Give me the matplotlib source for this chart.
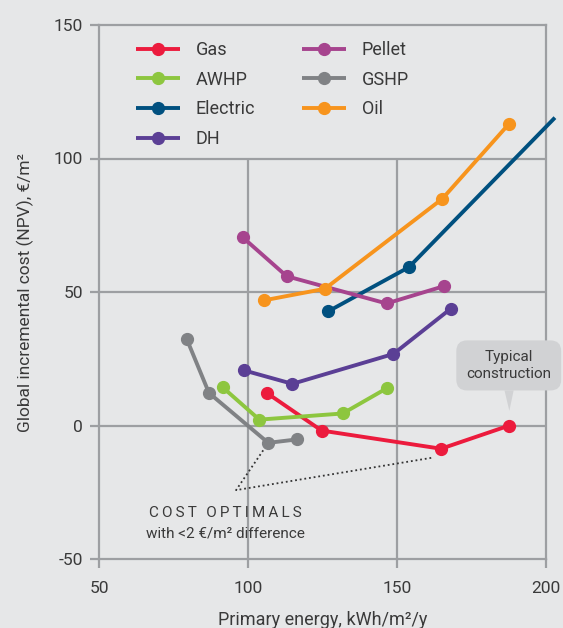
import matplotlib
matplotlib.use("Agg")
import matplotlib.pyplot as plt

plt.rcParams['font.family'] = ['Roboto', 'DejaVu Sans']
plt.rcParams['axes.unicode_minus'] = False

# series (primary energy, global incremental cost)
gas_x = [106.3, 124.7, 164.8, 187.7]
gas_y = [12.2, -1.9, -8.7, 0.0]
awhp_x = [91.5, 103.8, 131.8, 146.5]
awhp_y = [14.3, 2.2, 4.5, 13.9]
elec_x = [127.0, 154.0, 203.0]
elec_y = [42.8, 59.3, 115.3]
dh_x = [98.8, 114.9, 148.8, 168.1]
dh_y = [20.6, 15.6, 26.8, 43.8]
pellet_x = [98.2, 113.0, 146.5, 165.8]
pellet_y = [70.5, 55.9, 45.7, 52.2]
gshp_x = [79.4, 86.9, 106.8, 116.5]
gshp_y = [32.5, 12.2, -6.5, -5.2]
oil_x = [105.5, 125.8, 165.2, 187.6]
oil_y = [46.9, 51.2, 84.9, 113.0]

labels = ["Gas", "AWHP", "Electric", "DH", "Pellet", "GSHP", "Oil"]
colors = ["#ec1b3d", "#8dc63f", "#00507f", "#5b3f95", "#a6448e", "#808285", "#f7941d"]
xs = [gas_x, awhp_x, elec_x, dh_x, pellet_x, gshp_x, oil_x]
ys = [gas_y, awhp_y, elec_y, dh_y, pellet_y, gshp_y, oil_y]

xticks = [50, 100, 150, 200]
yticks = [-50, 0, 50, 100, 150]

bg = "#e6e7e8"
gridc = "#9d9fa2"
txt = "#3a3a3a"

fig = plt.figure(figsize=(5.63, 6.28), dpi=100, facecolor=bg)
ax = fig.add_axes([99 / 563, 69 / 628, 447 / 563, 534 / 628], facecolor=bg)

# grid: horizontal full width, vertical only up to 100 (legend room)
for yv in [0, 50, 100]:
    ax.axhline(yv, color=gridc, lw=1.6, zorder=1)
ax.vlines([100, 150], -50, 100, color=gridc, lw=1.6, zorder=1)

for x, y, lab, c in zip(xs, ys, labels, colors):
    elec = lab == "Electric"
    # electric runs off the right edge, last point has no marker
    ax.plot(x, y, color=c, lw=2.8, marker="o", ms=8.5, label=lab,
            markevery=[0, 1] if elec else None,
            clip_on=not elec, zorder=3, solid_capstyle="butt")

ax.set_xlim(50, 200)
ax.set_ylim(-50, 150)
ax.set_xticks(xticks)
ax.set_yticks(yticks)
for s in ax.spines.values():
    s.set_color(gridc)
    s.set_linewidth(1.6)
ax.tick_params(direction="out", length=6.5, width=1.6, color=gridc,
               labelcolor=txt, labelsize=12.5, pad=5)
ax.tick_params(axis="x", pad=9)

ax.set_xlabel("Primary energy, kWh/m²/y", fontsize=13, color=txt, labelpad=11)
ax.set_ylabel("Global incremental cost (NPV), €/m²", fontsize=12.5, color=txt, labelpad=14)

ax.legend(loc="upper left", bbox_to_anchor=(0.047, 1.0), ncol=2, frameon=False,
          fontsize=13, handlelength=2.4, labelspacing=0.64, columnspacing=2.6,
          handletextpad=0.9, labelcolor=txt)

# typical construction callout
ax.annotate("Typical\nconstruction", xy=(187.7, 5.5), xytext=(187.5, 22.5),
            ha="center", va="center", fontsize=11, color=txt,
            bbox=dict(boxstyle="round,pad=0.65,rounding_size=0.7", fc="#d1d2d4", ec="none"),
            arrowprops=dict(arrowstyle="wedge,tail_width=0.6", fc="#d1d2d4", ec="none",
                            shrinkA=0, shrinkB=0),
            annotation_clip=False, zorder=4)

# cost optimal pointers
ax.plot([105.1, 96.0, 161.6], [-9.3, -24.2, -12.1], color="#333333", lw=1.3,
        ls=(0, (1, 1.6)), zorder=2)
spaced = "\u2009".join("COST") + "\u2009\u2009\u2009" + "\u2009".join("OPTIMALS")
ax.text(92.5, -32.8, spaced, ha="center", va="center", fontsize=11, color=txt)
ax.text(92.5, -40.3, "with <2 €/m² difference", ha="center", va="center",
        fontsize=11, color=txt)

fig.savefig("out.png", dpi=100, facecolor=bg)
